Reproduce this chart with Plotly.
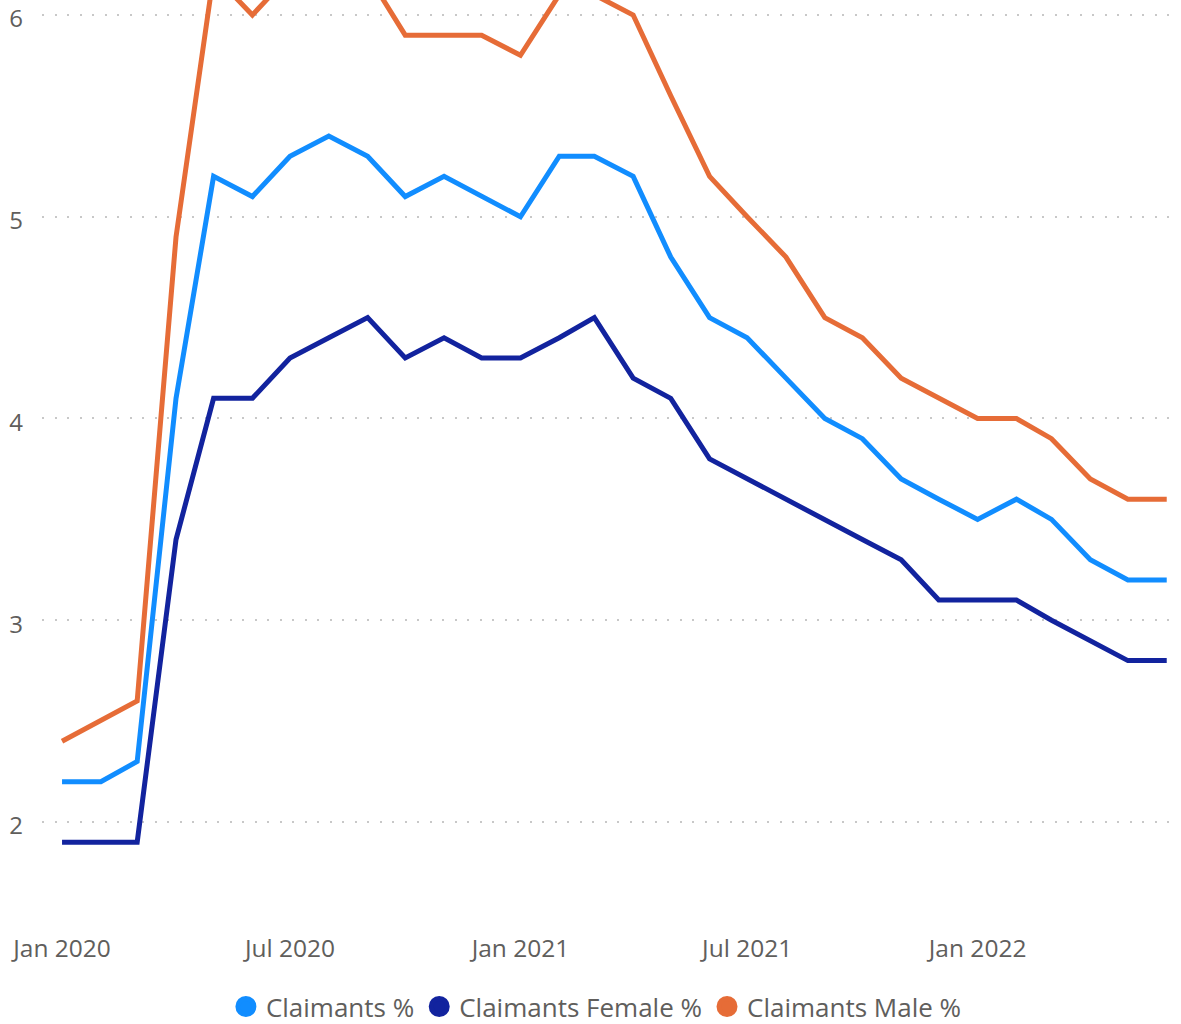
import pandas as pd
import plotly.graph_objects as go

# Monthly claimant rates, Jan 2020 - Jun 2022
months = pd.date_range("2020-01-01", periods=30, freq="MS")

claimants_pct = [2.2, 2.2, 2.3, 4.1, 5.2, 5.1, 5.3, 5.4, 5.3, 5.1,
                 5.2, 5.1, 5.0, 5.3, 5.3, 5.2, 4.8, 4.5, 4.4, 4.2,
                 4.0, 3.9, 3.7, 3.6, 3.5, 3.6, 3.5, 3.3, 3.2, 3.2]

claimants_female_pct = [1.9, 1.9, 1.9, 3.4, 4.1, 4.1, 4.3, 4.4, 4.5, 4.3,
                        4.4, 4.3, 4.3, 4.4, 4.5, 4.2, 4.1, 3.8, 3.7, 3.6,
                        3.5, 3.4, 3.3, 3.1, 3.1, 3.1, 3.0, 2.9, 2.8, 2.8]

claimants_male_pct = [2.4, 2.5, 2.6, 4.9, 6.2, 6.0, 6.2, 6.3, 6.2, 5.9,
                      5.9, 5.9, 5.8, 6.1, 6.1, 6.0, 5.6, 5.2, 5.0, 4.8,
                      4.5, 4.4, 4.2, 4.1, 4.0, 4.0, 3.9, 3.7, 3.6, 3.6]

series = [
    ("Claimants %", claimants_pct, "#118DFF"),
    ("Claimants Female %", claimants_female_pct, "#12239E"),
    ("Claimants Male %", claimants_male_pct, "#E66C37"),
]

FONT = "Segoe UI, Open Sans, sans-serif"
TEXT = "#605E5C"

fig = go.Figure()
for name, values, color in series:
    fig.add_trace(go.Scatter(
        x=months, y=values, mode="lines", name=name,
        line=dict(color=color, width=5, shape="linear"),
        showlegend=False, cliponaxis=True,
    ))
# Round legend markers
for name, values, color in series:
    fig.add_trace(go.Scatter(
        x=[None], y=[None], mode="markers", name=name,
        marker=dict(color=color, size=16, symbol="circle",
                    line=dict(color=color, width=5)),
        showlegend=True,
    ))

fig.update_layout(
    width=1181, height=1024,
    margin=dict(l=42, r=3, t=0, b=121, autoexpand=False),
    paper_bgcolor="white", plot_bgcolor="white",
    font=dict(family=FONT, color=TEXT, size=22),
    legend=dict(
        orientation="h", xref="container", yref="container",
        x=0.505, xanchor="center", y=0.017, yanchor="middle",
        font=dict(family=FONT, size=26, color=TEXT),
        itemwidth=30, tracegroupgap=0, itemclick=False,
    ),
    xaxis=dict(
        type="date",
        range=["2019-12-16", "2022-06-10"],
        tickvals=["2020-01-01", "2020-07-01", "2021-01-01", "2021-07-01", "2022-01-01"],
        tickformat="%b %Y",
        showgrid=False, zeroline=False, showline=False, ticks="",
        tickfont=dict(family=FONT, size=24.5, color=TEXT),
        ticklabelstandoff=28,
    ),
    yaxis=dict(
        range=[1.5985, 6.0743],
        tickvals=[2, 3, 4, 5, 6],
        showgrid=True, gridcolor="#C8C8C8", gridwidth=2,
        griddash="2px,10.5px",
        zeroline=False, showline=False, ticks="",
        tickfont=dict(family=FONT, size=24, color=TEXT),
        ticklabelstandoff=18,
        ticklabelshift=4,
        ticklabeloverflow="allow",
    ),
)

fig.write_html("out.html")
